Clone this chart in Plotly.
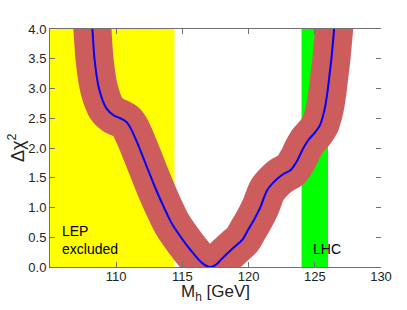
import plotly.graph_objects as go

# Central Delta chi^2 curve (M_h in GeV, Delta chi^2)
mh = [108.1, 108.2, 108.36, 108.7, 109.25, 109.8, 110.3, 110.76, 111.1, 111.55,
      112.02, 112.52, 113.03, 113.59, 114.2, 115.05, 115.6, 116.24, 116.65, 117.1,
      117.55, 117.9, 118.4, 118.94, 119.5, 119.95, 120.4, 120.9, 121.4, 122.05, 122.55,
      123.18, 123.7, 124.07, 124.5, 125.05, 125.4, 125.76, 125.96, 126.11,
      126.26, 126.46, 126.55]
dchi2 = [4.2, 4.0, 3.5, 3.0, 2.67, 2.55, 2.50, 2.44, 2.33, 2.11,
         1.85, 1.57, 1.29, 1.01, 0.73, 0.45, 0.29, 0.12, 0.04, 0.0,
         0.04, 0.12, 0.23, 0.34, 0.45, 0.62, 0.79, 1.01, 1.29, 1.46, 1.55,
         1.63, 1.80, 1.97, 2.13, 2.27, 2.39, 2.67, 2.95, 3.23,
         3.51, 4.0, 4.2]

lep_excl = [105.0, 114.4]
lhc_band = [124.0, 126.0]
x_range = [105, 130]
y_range = [0, 4]
x_ticks = [110, 115, 120, 125, 130]
y_ticks = [0.0, 0.5, 1.0, 1.5, 2.0, 2.5, 3.0, 3.5, 4.0]

fig = go.Figure()

fig.add_shape(type="rect", xref="x", yref="y", x0=lep_excl[0], x1=lep_excl[1],
              y0=y_range[0], y1=y_range[1], fillcolor="#FFFF00", line_width=0, layer="below")
fig.add_shape(type="rect", xref="x", yref="y", x0=lhc_band[0], x1=lhc_band[1],
              y0=y_range[0], y1=y_range[1], fillcolor="#00FF00", line_width=0, layer="below")

# theory uncertainty band drawn as a thick stroke
fig.add_trace(go.Scatter(x=mh, y=dchi2, mode="lines",
                         line=dict(color="#CD5C5C", width=38, shape="spline", smoothing=0.8),
                         hoverinfo="skip", showlegend=False))
fig.add_trace(go.Scatter(x=mh, y=dchi2, mode="lines",
                         line=dict(color="#0000FF", width=2, shape="spline", smoothing=0.8),
                         showlegend=False))
fig.add_trace(go.Scatter(x=[None], y=[None], yaxis="y2", showlegend=False, hoverinfo="skip"))

txt_font = dict(family="Liberation Sans, Arial", size=14, color="#000000")
fig.add_annotation(x=lep_excl[0], y=0.45, xref="x", yref="y", xanchor="left", xshift=10,
                   text="LEP<br>excluded", showarrow=False, align="left", font=txt_font)
fig.add_annotation(x=lhc_band[0], y=0.31, xref="x", yref="y", xanchor="left", xshift=9,
                   text="LHC", showarrow=False, align="left", font=txt_font)

title_font = dict(family="Liberation Sans, Arial", size=17, color="#222222")
fig.add_annotation(x=0.5, y=0, xref="paper", yref="paper", yanchor="middle", yshift=-26,
                   text="M<sub>h</sub> [GeV]", showarrow=False, font=title_font)
fig.add_annotation(x=0, y=0.5, xref="paper", yref="paper", xanchor="center", xshift=-34,
                   text="Δχ<sup>2</sup>", textangle=-90, showarrow=False,
                   font=dict(family="Liberation Sans, Arial", size=18, color="#222222"))

axis_font = dict(family="Liberation Sans, Arial", size=13, color="#222222")
fig.update_layout(
    width=407, height=310,
    margin=dict(l=50, r=26, t=29, b=43, autoexpand=False),
    paper_bgcolor="white", plot_bgcolor="white",
    font=dict(family="Liberation Sans, Arial"),
    xaxis=dict(range=x_range, tickvals=x_ticks, ticktext=[str(v) for v in x_ticks],
               ticks="inside", ticklen=5, tickcolor="#707070", ticklabelstandoff=-3,
               showline=True, linecolor="#707070", linewidth=1, mirror="ticks",
               showgrid=False, zeroline=False, tickfont=axis_font),
    yaxis=dict(range=y_range, tickvals=y_ticks, ticktext=["%.1f" % v for v in y_ticks],
               ticks="inside", ticklen=5, tickcolor="#707070",
               showline=True, linecolor="#707070", linewidth=1,
               showgrid=False, zeroline=False, tickfont=axis_font),
    yaxis2=dict(range=y_range, tickvals=y_ticks, overlaying="y", side="right",
                ticks="inside", ticklen=5, tickcolor="#707070", showticklabels=False,
                showline=False, showgrid=False, zeroline=False),
)

fig.write_html("out.html", config={"displayModeBar": False},
               post_script="document.body.style.margin='0';document.body.style.overflow='hidden';")
